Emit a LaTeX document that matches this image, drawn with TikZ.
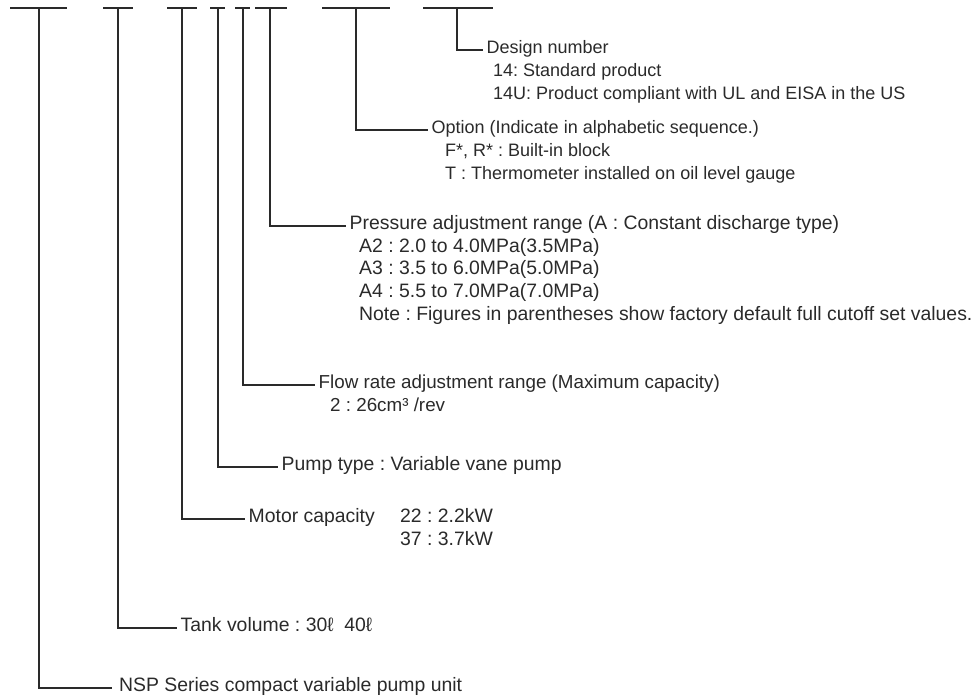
\documentclass[tikz,border=0pt]{standalone}
\usepackage{fontspec}
\setmainfont{Liberation Sans}
\definecolor{ink}{HTML}{2A2A2A}
\begin{document}
\frenchspacing
\begin{tikzpicture}[x=1pt,y=-1pt,
  conn/.style={draw=ink, line width=1.1pt},
  bar/.style={draw=ink, line width=1.1pt},
  lbl/.style={anchor=west, inner xsep=3.5pt, inner ysep=0pt, text height=0.7em, text depth=0pt,
    font=\fontsize{19.4}{23}\selectfont, text=ink},
  txt/.style={lbl, inner xsep=0pt},
  small/.style={font=\fontsize{18}{23}\selectfont},
  mid/.style={font=\fontsize{18.8}{23}\selectfont}]
\useasboundingbox (0,0) rectangle (974,697);
% top bars
\draw[bar] (10,8) -- (67,8);
\draw[bar] (103,8) -- (133,8);
\draw[bar] (167,8) -- (197,8);
\draw[bar] (210,8) -- (225,8);
\draw[bar] (235,8) -- (250,8);
\draw[bar] (255,8) -- (287,8);
\draw[bar] (322,8) -- (390,8);
\draw[bar] (423,8) -- (493,8);
\coordinate (b1) at (39,8);
\coordinate (b2) at (118,8);
\coordinate (b3) at (182,8);
\coordinate (b4) at (218,8);
\coordinate (b5) at (243,8);
\coordinate (b6) at (270,8);
\coordinate (b7) at (356,8);
\coordinate (b8) at (457,8);
% labels
\node[lbl, small] (dn) at (483,50) {Design number};
\node[txt, small] (dn1) at (493,73) {14: Standard product};
\node[txt, small] (dn2) at (493,96) {14U: Product compliant with UL and EISA in the US};
\node[lbl, small] (op) at (428,130) {Option (Indicate in alphabetic sequence.)};
\node[txt, small] (op1) at (445,153) {F*, R* : Built-in block};
\node[txt, small] (op2) at (445,176) {T : Thermometer installed on oil level gauge};
\node[lbl] (pr) at (346,226) {Pressure adjustment range (A : Constant discharge type)};
\node[txt] (pr1) at (359,249) {A2 : 2.0 to 4.0MPa(3.5MPa)};
\node[txt] (pr2) at (359,271) {A3 : 3.5 to 6.0MPa(5.0MPa)};
\node[txt] (pr3) at (359,294) {A4 : 5.5 to 7.0MPa(7.0MPa)};
\node[txt] (pr4) at (359,317) {Note : Figures in parentheses show factory default full cutoff set values.};
\node[lbl, mid] (fl) at (315,385) {Flow rate adjustment range (Maximum capacity)};
\node[txt, mid] (fl1) at (330,408) {2 : 26cm³ /rev};
\node[lbl] (pu) at (278,467) {Pump type : Variable vane pump};
\node[lbl] (mo) at (245,519) {Motor capacity};
\node[txt] (mo1) at (400,519) {22 : 2.2kW};
\node[txt] (mo2) at (400,542) {37 : 3.7kW};
\node[lbl] (ta) at (177,628) {Tank volume : 30ℓ\ \ 40ℓ};
\node[lbl, inner xsep=7pt] (ns) at (112,688) {NSP Series compact variable pump unit};
% connectors
\draw[conn] (b8) |- (dn.west);
\draw[conn] (b7) |- (op.west);
\draw[conn] (b6) |- (pr.west);
\draw[conn] (b5) |- (fl.west);
\draw[conn] (b4) |- (pu.west);
\draw[conn] (b3) |- (mo.west);
\draw[conn] (b2) |- (ta.west);
\draw[conn] (b1) |- (ns.west);
\end{tikzpicture}
\end{document}
